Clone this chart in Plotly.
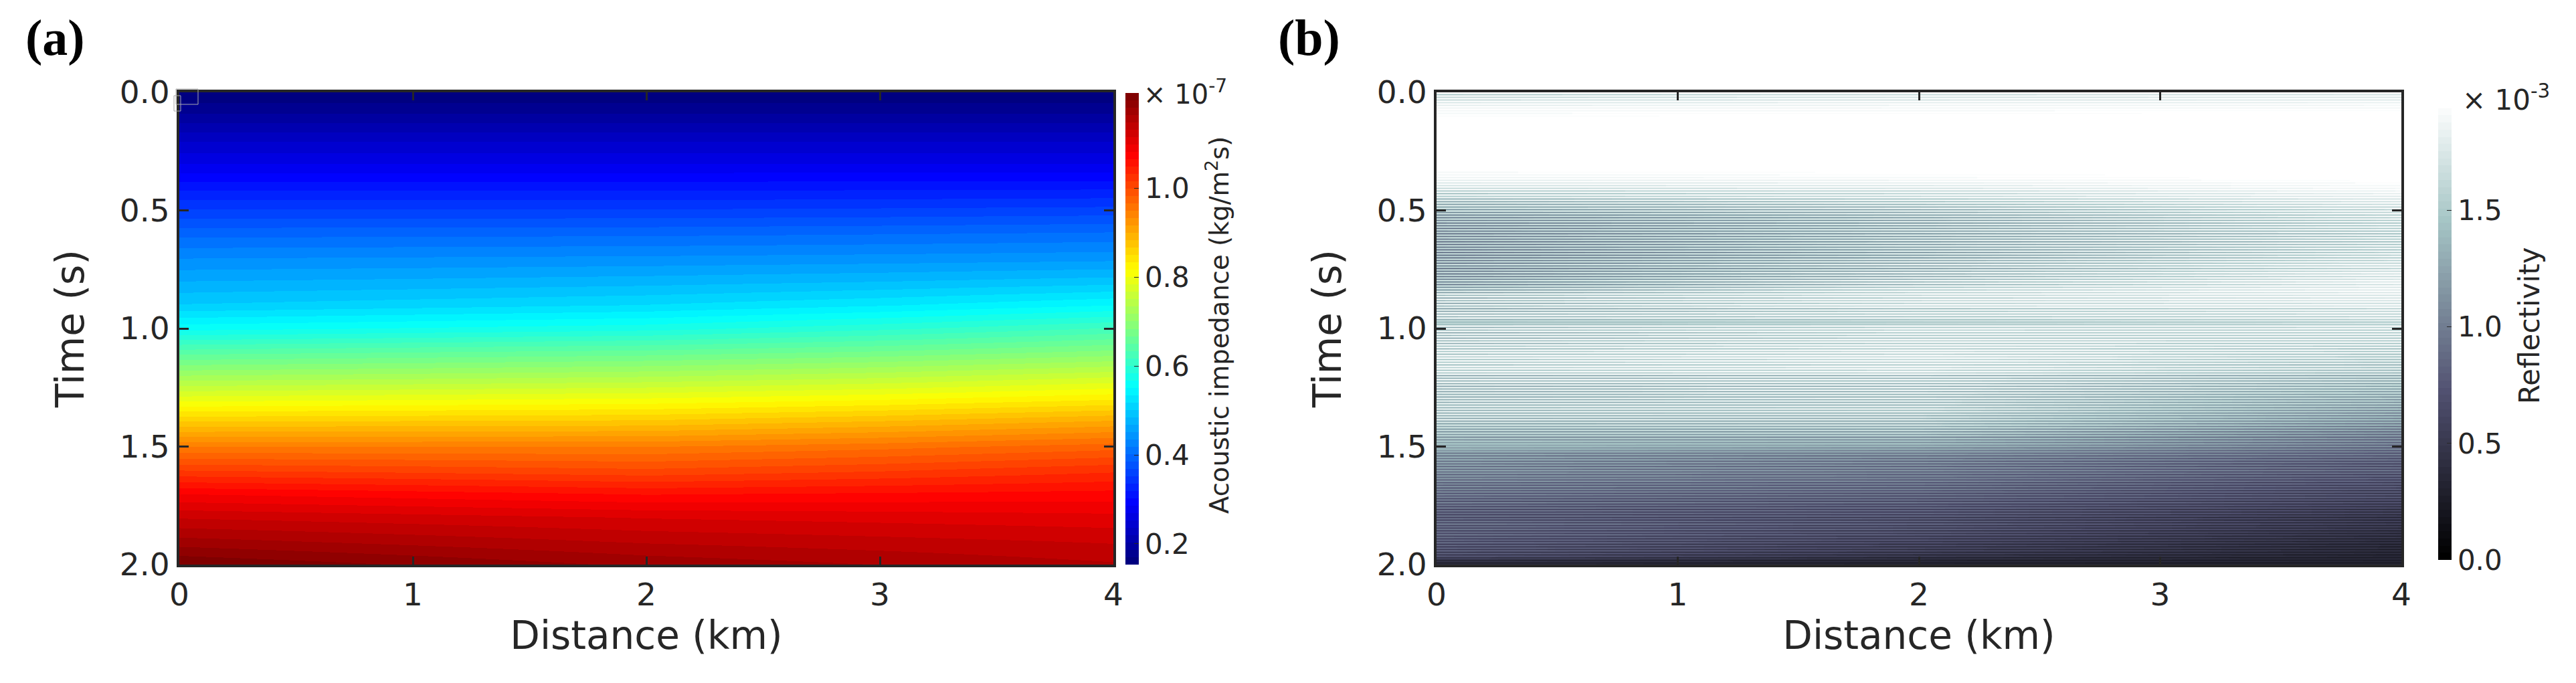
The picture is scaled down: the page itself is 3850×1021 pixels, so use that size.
import numpy as np
import plotly.graph_objects as go

W, H = 3850, 1021
INK = "#262626"

distance_a = [0, 1, 2, 3, 4]
time_a = [0.0, 0.1, 0.2, 0.3, 0.4, 0.5, 0.6, 0.7, 0.8, 0.9, 1.0, 1.1, 1.2, 1.3, 1.4, 1.5, 1.6, 1.7, 1.8, 1.9, 2.0]
imp_x0 = [.153, .190, .233, .268, .312, .355, .397, .434, .468, .503, .562, .643, .719, .794, .871, .950, 1.016, 1.082, 1.130, 1.172, 1.215]
imp_x1 = [.153, .190, .233, .268, .312, .355, .398, .436, .472, .511, .570, .650, .725, .799, .873, .950, 1.010, 1.073, 1.122, 1.159, 1.197]
imp_x2 = [.153, .190, .233, .268, .312, .355, .399, .438, .477, .519, .578, .657, .732, .804, .875, .950, 1.003, 1.064, 1.114, 1.146, 1.178]
imp_x3 = [.153, .190, .233, .268, .313, .357, .402, .441, .484, .533, .597, .670, .745, .816, .889, .961, 1.014, 1.068, 1.109, 1.138, 1.165]
imp_x4 = [.153, .190, .233, .268, .314, .360, .406, .445, .493, .551, .620, .689, .764, .833, .907, .976, 1.029, 1.072, 1.104, 1.130, 1.151]

distance_b = [0, 2, 4]
# Reflectivity x 1e-5, one value per trace sample, top to bottom
refl_x0 = [
197,150,197,160,197,165,197,175,197,180,197,185,197,188,197,190,197,193,197,195,
197,197,197,197,197,197,197,197,197,197,197,197,197,197,197,197,197,197,197,197,
197,197,197,197,197,197,197,197,197,197,197,197,197,197,197,197,197,195,197,190,
197,188,197,185,197,180,197,175,197,170,197,160,197,150,197,140,197,150,190,130,
190,125,185,118,185,120,180,110,185,105,175,100,170,95,175,100,172,92,172,95,
170,90,172,98,165,90,170,95,172,98,165,88,170,90,172,95,165,90,170,88,
170,90,165,88,172,95,170,90,178,100,165,88,170,95,172,90,170,95,172,100,
178,100,172,95,178,108,182,112,187,118,197,135,197,120,197,135,197,120,197,135,
190,120,190,125,197,130,197,135,197,130,165,140,160,140,197,130,197,140,197,125,
197,135,197,125,197,140,197,130,197,145,197,135,197,150,197,140,197,155,197,145,
197,150,197,140,197,155,197,145,197,150,197,125,190,130,197,135,197,130,190,125,
190,130,190,125,190,130,185,125,190,130,190,130,190,135,190,135,190,130,190,130,
190,130,185,125,190,125,180,120,180,125,175,115,170,110,170,115,165,105,160,110,
155,120,150,125,145,120,140,115,135,95,135,90,135,95,135,90,130,90,128,85,
132,88,128,92,123,83,123,88,118,83,123,78,113,78,118,73,113,78,113,73,
110,75,105,70,105,65,110,70,100,65,105,60,100,65,95,60,100,60,95,60,
100,65,105,65,95,65,100,60,95,65,100,60,95,60,90,60,95,55,90,55,
88,55,88,50,85,50,80,48,60,35,48,30,42]
refl_x2 = [
197,165,197,170,197,172,197,180,197,185,197,188,197,190,197,193,197,195,197,197,
197,197,197,197,197,197,197,197,197,197,197,197,197,197,197,197,197,197,197,197,
197,197,197,197,197,197,197,197,197,197,197,197,197,197,197,197,197,197,197,195,
197,192,197,190,197,185,197,180,197,175,197,170,197,160,197,155,197,160,197,145,
197,140,197,135,190,130,195,125,190,125,190,120,185,115,190,115,190,110,190,115,
185,115,190,120,185,110,190,115,185,120,190,110,190,115,190,120,185,115,190,110,
190,115,185,110,190,125,190,120,195,125,190,115,190,125,197,125,190,125,197,130,
197,135,197,130,197,145,197,150,197,155,197,160,197,150,197,160,197,155,197,165,
197,140,197,145,197,150,197,145,197,145,170,150,165,150,197,150,197,155,197,150,
197,150,197,145,197,158,197,150,197,160,197,152,197,162,197,155,197,165,197,158,
197,160,197,150,197,162,197,155,197,158,197,130,197,135,197,140,197,135,197,130,
197,135,197,130,197,135,190,130,195,135,190,135,190,135,190,140,190,140,190,135,
185,130,185,130,185,125,180,125,180,125,175,115,175,110,170,115,165,100,160,110,
150,110,150,115,140,105,135,100,130,95,125,85,125,85,122,82,122,82,118,78,
122,82,117,82,112,77,112,82,107,77,112,72,107,72,107,67,107,72,102,67,
100,65,100,65,95,60,100,60,90,60,95,55,90,55,90,55,90,50,85,50,
88,52,92,52,82,52,87,47,82,52,82,47,77,47,77,47,72,42,72,42,
68,42,68,38,62,36,56,32,46,28,40,26,36]
refl_x4 = [
197,170,197,175,197,178,197,182,197,188,197,190,197,193,197,195,197,197,197,197,
197,197,197,197,197,197,197,197,197,197,197,197,197,197,197,197,197,197,197,197,
197,197,197,197,197,197,197,197,197,197,197,197,197,197,197,197,197,197,197,197,
197,197,197,197,197,195,197,192,197,190,197,188,197,185,197,180,197,178,197,172,
197,170,197,165,197,160,197,155,197,160,197,150,197,155,197,150,197,145,197,150,
197,150,197,145,197,140,197,145,197,150,197,140,197,145,197,150,197,145,197,150,
197,155,197,150,197,155,197,160,197,165,197,155,197,165,197,170,197,165,197,170,
197,175,197,170,197,175,197,178,197,175,197,172,197,170,197,172,197,165,197,170,
197,155,197,160,197,155,197,155,197,155,185,150,180,150,197,155,197,150,197,150,
197,150,197,145,197,150,197,145,197,145,197,140,197,145,197,140,190,145,190,140,
190,140,190,130,190,140,190,135,185,135,185,118,180,122,180,122,180,118,175,118,
175,118,170,115,170,115,165,110,165,110,160,110,160,108,155,103,155,103,150,100,
150,100,145,100,145,100,140,95,140,90,135,90,130,85,125,85,125,80,120,80,
120,80,115,80,115,75,110,75,105,70,105,70,100,65,100,65,95,60,95,60,
98,62,98,62,93,57,93,57,88,57,88,52,88,52,83,52,83,47,83,47,
80,48,80,48,75,43,75,43,70,43,70,38,65,38,65,38,60,33,60,33,
62,35,62,35,57,35,57,33,52,33,52,30,52,30,47,30,47,27,45,27,
45,27,43,27,41,25,39,25,37,25,36,22,34]

imp_ticks = [0.2, 0.4, 0.6, 0.8, 1.0]
refl_ticks = [0.0, 0.5, 1.0, 1.5]
time_ticks = [0.0, 0.5, 1.0, 1.5, 2.0]
dist_ticks = [0, 1, 2, 3, 4]


def rgb(r, g, b):
    return "rgb(%d,%d,%d)" % (round(r * 255), round(g * 255), round(b * 255))


def jet(f):
    clip = lambda v: float(np.clip(v, 0, 1))
    return rgb(clip(min(4 * f - 1.5, -4 * f + 4.5)), clip(min(4 * f - 0.5, -4 * f + 3.5)), clip(min(4 * f + 0.5, -4 * f + 2.5)))


def bone(f):
    r = np.interp(f, [0, .746032, 1], [0, .652778, 1])
    g = np.interp(f, [0, .365079, .746032, 1], [0, .319444, .777778, 1])
    b = np.interp(f, [0, .365079, 1], [0, .444444, 1])
    return rgb(r, g, b)


def stepped(fn, n=64):
    out = []
    for k in range(n):
        c = fn(k / (n - 1))
        out += [[k / n, c], [(k + 1) / n, c]]
    return out


def px(x):
    return x / W


def py(y):
    return 1 - y / H


TOP, BOT = 138, 844
AL, AR = 268, 1664
BL, BR = 2147, 3589

fig = go.Figure()
z_a = np.array([imp_x0, imp_x1, imp_x2, imp_x3, imp_x4]).T
fig.add_trace(go.Heatmap(
    x=distance_a, y=time_a, z=z_a, zmin=0.153, zmax=1.215, zsmooth="best",
    colorscale=stepped(jet), xaxis="x", yaxis="y", hoverinfo="skip",
    colorbar=dict(x=px(1682), xanchor="left", xpad=0, thickness=20, thicknessmode="pixels",
                  y=py(844), yanchor="bottom", ypad=0, len=705, lenmode="pixels",
                  outlinewidth=0, tickvals=imp_ticks, tickformat=".1f", ticks="inside",
                  ticklen=7, tickwidth=1, tickcolor=INK,
                  tickfont=dict(family="DejaVu Sans", size=42, color=INK))))

n_rows = len(refl_x0)
time_b = [(i + 0.5) * 2 / n_rows for i in range(n_rows)]
z_b = np.array([refl_x0, refl_x2, refl_x4]).T / 100
fig.add_trace(go.Heatmap(
    x=distance_b, y=time_b, z=z_b, zmin=0, zmax=1.97, zsmooth="best",
    colorscale=stepped(bone), xaxis="x2", yaxis="y2", hoverinfo="skip",
    colorbar=dict(x=px(3644), xanchor="left", xpad=0, thickness=20, thicknessmode="pixels",
                  y=py(837), yanchor="bottom", ypad=0, len=686, lenmode="pixels",
                  outlinewidth=0, tickvals=refl_ticks, tickformat=".1f", ticks="inside",
                  ticklen=7, tickwidth=1, tickcolor=INK,
                  tickfont=dict(family="DejaVu Sans", size=42, color=INK))))

tickfont = dict(family="DejaVu Sans", size=47, color=INK)
titlefont = dict(family="DejaVu Sans", size=58, color=INK)


def xaxis(dom, anchor):
    return dict(domain=[px(dom[0]), px(dom[1])], anchor=anchor, range=[0, 4], tickvals=dist_ticks,
                ticks="inside", ticklen=12, tickwidth=3, tickcolor=INK, showline=True, linewidth=4,
                linecolor=INK, mirror="ticks", showgrid=False, zeroline=False, tickfont=tickfont,
                ticklabelstandoff=1,
                title=dict(text="Distance (km)", font=titlefont, standoff=7))


def yaxis(anchor):
    return dict(domain=[py(BOT), py(TOP)], anchor=anchor, range=[2, 0], tickvals=time_ticks,
                tickformat=".1f", ticks="inside", ticklen=14, tickwidth=3, tickcolor=INK, showline=True,
                linewidth=4, linecolor=INK, mirror="ticks", showgrid=False, zeroline=False,
                tickfont=tickfont, ticklabelstandoff=1,
                title=dict(text="Time (s)", font=titlefont, standoff=36))


def note(text, x, y, size, angle=0, family="DejaVu Sans", color=INK):
    return dict(text=text, x=px(x), y=py(y), xref="paper", yref="paper", showarrow=False,
                xanchor="center", yanchor="middle", textangle=angle,
                font=dict(family=family, size=size, color=color))


fig.update_layout(
    width=W, height=H, autosize=False, margin=dict(l=0, r=0, t=0, b=0, pad=0, autoexpand=False),
    paper_bgcolor="white", plot_bgcolor="white", showlegend=False,
    xaxis=xaxis((AL, AR), "y"), yaxis=yaxis("x"),
    xaxis2=xaxis((BL, BR), "y2"), yaxis2=yaxis("x2"),
    annotations=[
        note("<b>(a)</b>", 82, 57, 76, family="Liberation Serif", color="#000000"),
        note("<b>(b)</b>", 1956, 57, 76, family="Liberation Serif", color="#000000"),
        note("× 10<sup>-7</sup>", 1771, 138, 40),
        note("× 10<sup>-3</sup>", 3745, 146, 42),
        note("Acoustic impedance (kg/m<sup>2</sup>s)", 1820, 486, 38.5, angle=-90),
        note("Reflectivity", 3780, 487, 42, angle=-90),
    ],
    shapes=[
        dict(type="rect", xref="paper", yref="paper", x0=px(263), x1=px(296), y0=py(156), y1=py(133),
             line=dict(color="#aaaaaa", width=1), fillcolor="rgba(0,0,0,0)"),
        dict(type="rect", xref="paper", yref="paper", x0=px(260), x1=px(270), y0=py(166), y1=py(143),
             line=dict(color="#aaaaaa", width=1), fillcolor="rgba(0,0,0,0)"),
    ],
)

fig.write_html("out.html", config={"displayModeBar": False},
               post_script="document.body.style.margin='0';")
